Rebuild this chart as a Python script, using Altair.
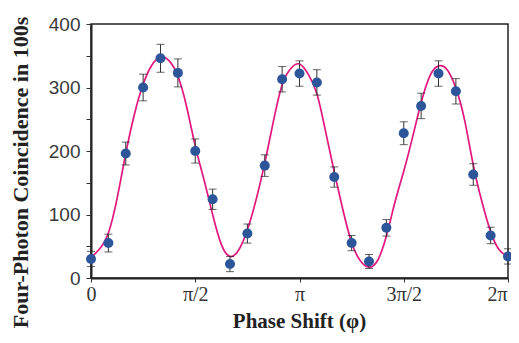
import altair as alt
import pandas as pd

# Measured points: phase index k (phase = k * pi/12), counts (in 100s), error bars
k_index = list(range(25))
counts = [30, 55, 196, 300, 346, 323, 200, 124, 22, 70, 177, 313, 322, 308, 159,
          55, 26, 79, 228, 271, 322, 294, 163, 67, 34]
errors = [12, 14, 18, 21, 22, 22, 19, 16, 12, 15, 17, 20, 20, 20, 16,
          12, 11, 13, 18, 20, 20, 20, 17, 13, 12]

# Fitted curve at steps of pi/24
curve_k = [i / 2 for i in range(49)]
curve_vals = [32, 46, 71, 125, 196, 258, 305, 335, 348, 342, 318, 270, 208, 155, 100,
              53, 34, 44, 76, 123, 181, 247, 304, 330, 337, 321, 290, 231, 167, 107,
              56, 27, 17, 28, 66, 120, 168, 221, 276, 318, 334, 328, 299, 249, 178,
              120, 73, 44, 34]

# x tick positions (in units of pi) and their labels
x_ticks = [0, 0.5, 1, 1.5, 2]
x_tick_labels = ["0", "π/2", "π", "3π/2", "2π"]
y_ticks = [0, 50, 100, 150, 200, 250, 300, 350, 400]

pts = pd.DataFrame({
    "phase": [k / 12 for k in k_index],
    "count": counts,
    "lo": [c - e for c, e in zip(counts, errors)],
    "hi": [c + e for c, e in zip(counts, errors)],
})
fit = pd.DataFrame({"phase": [k / 12 for k in curve_k], "count": curve_vals})

label_expr = " : ".join(
    f"datum.value == {v} ? '{l}'" for v, l in zip(x_ticks[:-1], x_tick_labels[:-1])
) + f" : '{x_tick_labels[-1]}'"

x_axis = alt.Axis(
    values=x_ticks, labelExpr=label_expr, grid=False, labelFlush=False,
    labelOffset={"condition": {"test": "datum.value == 2", "value": -11}, "value": 0},
    labelFont="Liberation Serif", labelFontSize=20, labelColor="#333",
    labelBaseline="alphabetic", labelPadding=18, tickSize=4, tickColor="#333",
    domainColor="#222", domainWidth=2,
    title="Phase Shift (φ)", titleFont="Liberation Serif", titleFontSize=21,
    titleFontWeight="bold", titleColor="#222", titleBaseline="alphabetic",
    titleX=208, titleY=49,
)
y_axis = alt.Axis(
    values=y_ticks, labelExpr="datum.value % 100 == 0 ? datum.label : ''", grid=False,
    labelFont="Liberation Sans", labelFontSize=19, labelColor="#3a3a3a",
    labelPadding=6, tickSize=5, tickColor="#333", labelFlush=False,
    domainColor="#222", domainWidth=2,
    title="Four-Photon Coincidence in 100s", titleFont="Liberation Serif",
    titleFontSize=22, titleFontWeight="bold", titleColor="#222",
    titleAngle=270, titleBaseline="alphabetic", titleX=-64, titleY=148,
)

X = alt.X("phase:Q", scale=alt.Scale(domain=[0, 2], nice=False), axis=x_axis)


def Y(field):
    return alt.Y(f"{field}:Q", scale=alt.Scale(domain=[0, 400], nice=False), axis=y_axis)


curve = alt.Chart(fit).mark_line(color="#e2177d", strokeWidth=1.7, interpolate="natural", clip=True).encode(
    x=X, y=Y("count")
)
bars = alt.Chart(pts).mark_rule(color="#333", strokeWidth=1).encode(
    x=X, y=Y("lo"), y2="hi"
)
cap_lo = alt.Chart(pts).mark_tick(color="#222", thickness=1, size=8, orient="horizontal").encode(
    x=X, y=Y("lo")
)
cap_hi = alt.Chart(pts).mark_tick(color="#222", thickness=1, size=8, orient="horizontal").encode(
    x=X, y=Y("hi")
)
dots = alt.Chart(pts).mark_point(filled=True, color="#2c559a", size=100, opacity=1).encode(
    x=X, y=Y("count")
)

chart = alt.layer(curve, bars, cap_lo, cap_hi, dots).properties(
    width=417, height=254,
    autosize=alt.AutoSizeParams(type="none"),
    padding={"left": 83, "top": 16, "right": 3, "bottom": 57},
).configure_view(stroke="#222", strokeWidth=1.5)

chart.save("out.html", embed_options={"renderer": "svg", "actions": False})
